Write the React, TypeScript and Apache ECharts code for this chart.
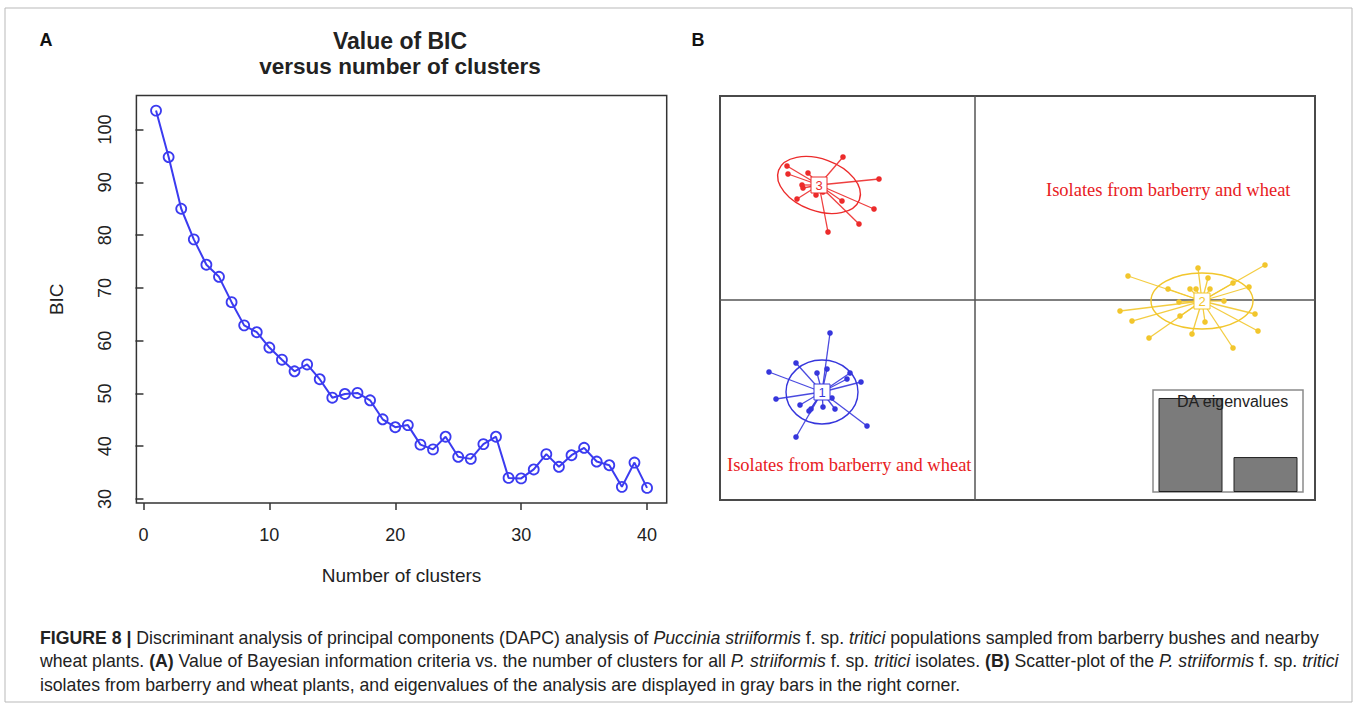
import React, { useEffect, useRef } from "react";
import * as echarts from "echarts";

// ---------- Panel A data ----------
const clusterCounts = [1, 2, 3, 4, 5, 6, 7, 8, 9, 10, 11, 12, 13, 14, 15, 16, 17, 18, 19, 20, 21, 22, 23, 24, 25, 26, 27, 28, 29, 30, 31, 32, 33, 34, 35, 36, 37, 38, 39, 40];
const bicValues = [103.6, 94.8, 85.0, 79.2, 74.4, 72.1, 67.3, 62.9, 61.6, 58.7, 56.4, 54.2, 55.5, 52.7, 49.2, 49.9, 50.1, 48.7, 45.1, 43.6, 44.0, 40.3, 39.4, 41.8, 38.0, 37.6, 40.4, 41.8, 34.0, 33.9, 35.6, 38.5, 36.1, 38.3, 39.7, 37.1, 36.4, 32.3, 36.9, 32.1];
const xTicks = [0, 10, 20, 30, 40];
const yTicks = [30, 40, 50, 60, 70, 80, 90, 100];

// ---------- Panel B data (discriminant function coordinates) ----------
const groupLabels = ["1", "2", "3"];
const groupColors = ["#3636dc", "#f2c62c", "#ec2b2b"];
const groupCenters = [
  [-3.06, -1.84],
  [4.54, -0.02],
  [-3.12, 2.3],
];
// [rx, ry, rotationDeg]
const groupEllipses = [
  [0.72, 0.64, 0],
  [1.02, 0.56, 0],
  [0.86, 0.52, -20],
];
const group1Points = [
  [-2.9, -0.66], [-3.58, -1.26], [-4.12, -1.44], [-3.16, -1.46], [-2.96, -1.38], [-2.5, -1.46],
  [-2.56, -1.58], [-2.28, -1.64], [-3.98, -1.98], [-2.86, -1.96], [-3.5, -2.1], [-3.28, -2.18],
  [-3.04, -2.14], [-2.8, -2.18], [-3.32, -2.22], [-2.16, -2.52], [-3.58, -2.74],
];
const group2Points = [
  [3.06, 0.48], [4.46, 0.64], [4.66, 0.44], [5.8, 0.7], [5.16, 0.34], [5.48, 0.26], [3.86, 0.22],
  [4.3, 0.22], [4.42, 0.22], [4.7, 0.22], [4.08, -0.04], [4.98, -0.02], [2.9, -0.22], [4.1, -0.32],
  [3.14, -0.42], [5.6, -0.28], [4.6, -0.44], [5.66, -0.62], [3.48, -0.76], [4.34, -0.68], [5.16, -0.96],
];
const group3Points = [
  [-2.64, 2.86], [-3.76, 2.68], [-3.74, 2.52], [-3.34, 2.54], [-3.46, 2.3], [-3.44, 2.24], [-1.92, 2.42],
  [-3.56, 2.02], [-3.18, 2.1], [-2.66, 1.98], [-2.02, 1.82], [-2.32, 1.52], [-2.94, 1.36], [-3.04, 2.16],
];
const groupPoints = [group1Points, group2Points, group3Points];

const eigenLabels = ["LD1", "LD2"];
const eigenValues = [2.69, 1.0];

const annotationText = "Isolates from barberry and wheat";

const SANS = "'Liberation Sans', Arial, Helvetica, sans-serif";
const SERIF = "'Liberation Serif', 'Times New Roman', serif";
const CAP = "'Liberation Sans', Arial, sans-serif";
const CAP_SIZE = 17.7;

export default function App() {
  const ref = useRef<HTMLDivElement>(null);

  useEffect(() => {
    const chart = echarts.init(ref.current!, null, { renderer: "svg" });

    // R-style 4% axis extension
    const yMinD = Math.min(...bicValues);
    const yMaxD = Math.max(...bicValues);
    const yPad = (yMaxD - yMinD) * 0.04;
    const xMinD = Math.min(...clusterCounts);
    const xMaxD = Math.max(...clusterCounts);
    const xPad = (xMaxD - xMinD) * 0.04;

    const lineColor = "#3b3bf0";

    const spokeSeries = groupPoints.map((pts, g) => ({
      type: "custom",
      xAxisIndex: 1,
      yAxisIndex: 1,
      z: 3,
      silent: true,
      data: pts,
      renderItem: (params: any, api: any) => {
        const p = api.coord([api.value(0), api.value(1)]);
        const c = api.coord(groupCenters[g]);
        return {
          type: "group",
          children: [
            {
              type: "line",
              shape: { x1: c[0], y1: c[1], x2: p[0], y2: p[1] },
              style: { stroke: groupColors[g], lineWidth: 1.3, opacity: 0.9 },
            },
            {
              type: "circle",
              shape: { cx: p[0], cy: p[1], r: 2.8 },
              style: { fill: groupColors[g] },
            },
          ],
        };
      },
    }));

    const ellipseData = groupCenters.map((c, g) => [c[0], c[1], groupEllipses[g][0], groupEllipses[g][1], groupEllipses[g][2]]);

    const rich = {
      n: { fontSize: CAP_SIZE, fontFamily: CAP, fill: "#222", lineHeight: 23.5 },
      b: { fontSize: CAP_SIZE, fontFamily: CAP, fontWeight: "bold", fill: "#222", lineHeight: 23.5 },
      i: { fontSize: CAP_SIZE, fontFamily: CAP, fontStyle: "italic", fill: "#222", lineHeight: 23.5 },
    };

    const option: any = {
      animation: false,
      backgroundColor: "#ffffff",
      grid: [
        { left: 136.4, top: 95.5, width: 530.3, height: 407.5, show: true, borderColor: "#333", borderWidth: 1.5, backgroundColor: "transparent", containLabel: false },
        { left: 720, top: 96, width: 595, height: 404, show: true, borderColor: "#4a4a4a", borderWidth: 2, backgroundColor: "transparent" },
        { left: 1153, top: 390, width: 150, height: 102, show: true, borderColor: "#8a8a8a", borderWidth: 1.5, backgroundColor: "#fff" },
      ],
      xAxis: [
        {
          type: "value",
          gridIndex: 0,
          min: xMinD - xPad,
          max: xMaxD + xPad,
          axisLine: { show: false },
          axisTick: { show: true, length: 7, customValues: xTicks, lineStyle: { color: "#333", width: 1.5 } },
          axisLabel: { show: true, customValues: xTicks, fontSize: 18, fontFamily: SANS, color: "#222", margin: 23 },
          splitLine: { show: false },
          name: "Number of clusters",
          nameLocation: "middle",
          nameGap: 63,
          nameTextStyle: { fontSize: 19, fontFamily: SANS, color: "#222" },
        },
        {
          type: "value",
          gridIndex: 1,
          min: -5.1,
          max: 6.8,
          axisLine: { show: true, onZero: true, lineStyle: { color: "#555", width: 1.5 } },
          axisTick: { show: false },
          axisLabel: { show: false },
          splitLine: { show: false },
        },
        {
          type: "category",
          gridIndex: 2,
          data: eigenLabels,
          axisLine: { show: false },
          axisTick: { show: false },
          axisLabel: { show: false },
          splitLine: { show: false },
        },
      ],
      yAxis: [
        {
          type: "value",
          gridIndex: 0,
          min: yMinD - yPad,
          max: yMaxD + yPad,
          axisLine: { show: false },
          axisTick: { show: true, length: 8, customValues: yTicks, lineStyle: { color: "#333", width: 1.5 } },
          axisLabel: { show: true, customValues: yTicks, rotate: 90, fontSize: 18, fontFamily: SANS, color: "#222", margin: 22 },
          splitLine: { show: false },
          name: "BIC",
          nameLocation: "middle",
          nameGap: 70,
          nameTextStyle: { fontSize: 19, fontFamily: SANS, color: "#222" },
        },
        {
          type: "value",
          gridIndex: 1,
          min: -4.0,
          max: 4.08,
          axisLine: { show: true, onZero: true, lineStyle: { color: "#555", width: 1.5 } },
          axisTick: { show: false },
          axisLabel: { show: false },
          splitLine: { show: false },
        },
        {
          type: "value",
          gridIndex: 2,
          min: 0,
          max: eigenValues[0] * 1.085,
          axisLine: { show: false },
          axisTick: { show: false },
          axisLabel: { show: false },
          splitLine: { show: false },
        },
      ],
      series: [
        {
          type: "line",
          xAxisIndex: 0,
          yAxisIndex: 0,
          data: bicValues.map((v, i) => [clusterCounts[i], v]),
          symbol: "circle",
          symbolSize: 10,
          clip: false,
          lineStyle: { color: lineColor, width: 2 },
          itemStyle: { color: "rgba(255,255,255,0)", borderColor: lineColor, borderWidth: 1.8 },
        },
        {
          type: "custom",
          xAxisIndex: 1,
          yAxisIndex: 1,
          z: 2,
          silent: true,
          data: ellipseData,
          renderItem: (params: any, api: any) => {
            const g = params.dataIndex;
            const c = api.coord([api.value(0), api.value(1)]);
            const s = api.size([api.value(2), api.value(3)]);
            return {
              type: "ellipse",
              x: c[0],
              y: c[1],
              rotation: (api.value(4) * Math.PI) / 180,
              shape: { cx: 0, cy: 0, rx: s[0], ry: s[1] },
              style: { fill: "none", stroke: groupColors[g], lineWidth: 1.4 },
            };
          },
        },
        ...spokeSeries,
        {
          type: "custom",
          xAxisIndex: 1,
          yAxisIndex: 1,
          z: 4,
          silent: true,
          data: groupCenters,
          renderItem: (params: any, api: any) => {
            const g = params.dataIndex;
            const c = api.coord([api.value(0), api.value(1)]);
            return {
              type: "group",
              children: [
                {
                  type: "rect",
                  shape: { x: c[0] - 8, y: c[1] - 8, width: 16, height: 16 },
                  style: { fill: "#fff", stroke: groupColors[g], lineWidth: 1 },
                },
                {
                  type: "text",
                  x: c[0],
                  y: c[1] + 0.5,
                  style: { text: groupLabels[g], fill: groupColors[g], fontSize: 13, fontFamily: SANS, align: "center", verticalAlign: "middle" },
                },
              ],
            };
          },
        },
        {
          type: "bar",
          xAxisIndex: 2,
          yAxisIndex: 2,
          data: eigenValues,
          barWidth: 64,
          itemStyle: { color: "#7b7b7b", borderColor: "#222", borderWidth: 1 },
        },
      ],
      graphic: [
        {
          type: "rect",
          shape: { x: 5, y: 8, width: 1347, height: 694 },
          style: { fill: "none", stroke: "#b9b9b9", lineWidth: 1 },
          silent: true,
          z: -10,
        },
        { type: "text", x: 46, y: 40, style: { text: "A", fontSize: 18, fontWeight: "bold", fontFamily: SANS, fill: "#111", align: "center", verticalAlign: "middle" } },
        { type: "text", x: 698, y: 40, style: { text: "B", fontSize: 18, fontWeight: "bold", fontFamily: SANS, fill: "#111", align: "center", verticalAlign: "middle" } },
        { type: "text", x: 400, y: 41, style: { text: "Value of BIC", fontSize: 23, fontWeight: "bold", fontFamily: SANS, fill: "#222", align: "center", verticalAlign: "middle" } },
        { type: "text", x: 400, y: 66, style: { text: "versus number of clusters", fontSize: 22.5, fontWeight: "bold", fontFamily: SANS, fill: "#222", align: "center", verticalAlign: "middle" } },
        { type: "text", x: 1046, y: 190, style: { text: annotationText, fontSize: 18.5, fontFamily: SERIF, fill: "#e8201e", align: "left", verticalAlign: "middle" } },
        { type: "text", x: 727, y: 465, style: { text: annotationText, fontSize: 18.5, fontFamily: SERIF, fill: "#e8201e", align: "left", verticalAlign: "middle" } },
        { type: "text", x: 1177, y: 401, z: 10, style: { text: "DA eigenvalues", fontSize: 16, fontFamily: SANS, fill: "#222", align: "left", verticalAlign: "middle" } },
        {
          type: "text",
          x: 40,
          y: 626,
          style: {
            text:
              "{b|FIGURE 8 |}{n| Discriminant analysis of principal components (DAPC) analysis of }{i|Puccinia striiformis}{n| f. sp. }{i|tritici}{n| populations sampled from barberry bushes and nearby}\n" +
              "{n|wheat plants. }{b|(A)}{n| Value of Bayesian information criteria vs. the number of clusters for all }{i|P. striiformis}{n| f. sp. }{i|tritici}{n| isolates. }{b|(B)}{n| Scatter-plot of the }{i|P. striiformis}{n| f. sp. }{i|tritici}\n" +
              "{n|isolates from barberry and wheat plants, and eigenvalues of the analysis are displayed in gray bars in the right corner.}",
            fontSize: CAP_SIZE,
            fontFamily: CAP,
            fill: "#222",
            align: "left",
            verticalAlign: "top",
            lineHeight: 23.5,
            rich,
          },
        },
      ],
    };

    chart.setOption(option);
    return () => chart.dispose();
  }, []);

  return (
    <div
      ref={ref}
      style={{ position: "absolute", left: 0, top: 0, width: 1358, height: 706, background: "#fff" }}
    />
  );
}
